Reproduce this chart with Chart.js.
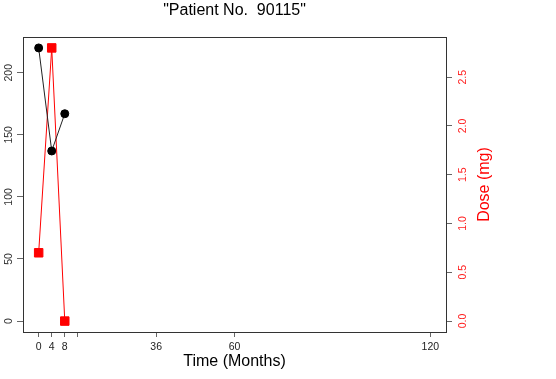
<!DOCTYPE html>
<html>
<head>
<meta charset="utf-8">
<script src="https://cdn.jsdelivr.net/npm/chart.js@4"></script>
<style>
  html, body { margin: 0; padding: 0; background: #fff; }
  #wrap { width: 556px; height: 379px; }
</style>
</head>
<body>
<div id="wrap"><canvas id="chart"></canvas></div>
<script>
// data
const months = [0, 4, 8]
const countValues = [220, 137, 167]
const doseValues = [0.7, 2.8, 0]
const xTicks = [0, 4, 8, 12, 36, 60, 120]
const leftTicks = [0, 50, 100, 150, 200]
const rightTicks = [0, 0.5, 1, 1.5, 2, 2.5]
const chartTitle = '"Patient No.  90115"'
const xTitle = 'Time (Months)'
const rightTitle = 'Dose (mg)'

const FONT = '"Liberation Sans", Arial, sans-serif'

// box, rotated axis labels and titles, R style
const rLook = {
  id: 'rLook',
  afterDraw(chart) {
    const {ctx, chartArea: a} = chart
    const yl = chart.scales.y
    const yr = chart.scales.y2
    ctx.save()
    ctx.strokeStyle = '#333'
    ctx.lineWidth = 1
    ctx.strokeRect(Math.round(a.left) + 0.5, Math.round(a.top) + 0.5,
      Math.round(a.right - a.left), Math.round(a.bottom - a.top))

    ctx.font = '10.5px ' + FONT
    ctx.textAlign = 'center'
    ctx.textBaseline = 'middle'
    ctx.fillStyle = '#333'
    leftTicks.forEach(v => {
      ctx.save()
      ctx.translate(a.left - 14, yl.getPixelForValue(v))
      ctx.rotate(-Math.PI / 2)
      ctx.fillText(String(v), 0, 0)
      ctx.restore()
    })
    ctx.fillStyle = '#ff2020'
    rightTicks.forEach(v => {
      ctx.save()
      ctx.translate(a.right + 17, yr.getPixelForValue(v))
      ctx.rotate(-Math.PI / 2)
      ctx.fillText(v.toFixed(1), 0, 0)
      ctx.restore()
    })

    ctx.font = '16px ' + FONT
    ctx.fillStyle = '#ff0000'
    ctx.save()
    ctx.translate(a.right + 39, (a.top + a.bottom) / 2)
    ctx.rotate(-Math.PI / 2)
    ctx.fillText(rightTitle, 0, 0)
    ctx.restore()

    ctx.fillStyle = '#000'
    const cx = (a.left + a.right) / 2
    ctx.fillText(chartTitle, cx, 11)
    ctx.fillText(xTitle, cx, 362)
    ctx.restore()
  }
}

const chart = new Chart(document.getElementById('chart'), {
  type: 'line',
  data: {
    datasets: [
      {
        label: 'count',
        data: months.map((m, i) => ({x: m, y: countValues[i]})),
        yAxisID: 'y',
        borderColor: '#222',
        borderWidth: 1,
        pointStyle: 'circle',
        pointRadius: 4,
        pointBackgroundColor: '#000',
        pointBorderColor: '#000',
        tension: 0
      },
      {
        label: 'dose',
        data: months.map((m, i) => ({x: m, y: doseValues[i]})),
        yAxisID: 'y2',
        borderColor: '#ff0000',
        borderWidth: 1,
        pointStyle: 'rect',
        pointRadius: 6,
        pointBackgroundColor: '#ff0000',
        pointBorderColor: '#ff0000',
        tension: 0
      }
    ]
  },
  options: {
    animation: false,
    responsive: true,
    maintainAspectRatio: false,
    layout: { padding: { top: 37, left: 0, right: 0, bottom: 0 } },
    plugins: {
      legend: { display: false },
      tooltip: { enabled: false }
    },
    scales: {
      x: {
        type: 'linear',
        min: -4.8,
        max: 124.8,
        afterBuildTicks: s => { s.ticks = xTicks.map(v => ({value: v})) },
        afterFit: s => { s.height = 47 },
        grid: { drawOnChartArea: false, drawTicks: true, tickLength: 5, color: '#666' },
        border: { display: true, color: '#333' },
        ticks: {
          autoSkip: false,
          maxRotation: 0,
          padding: 4,
          color: '#222',
          font: { family: FONT, size: 10.5 },
          callback: v => (v === 12 ? '' : String(v))
        }
      },
      y: {
        type: 'linear',
        position: 'left',
        min: -8.8,
        max: 228.8,
        afterBuildTicks: s => { s.ticks = leftTicks.map(v => ({value: v})) },
        afterFit: s => { s.width = 23 },
        grid: { drawOnChartArea: false, drawTicks: true, tickLength: 6, color: '#666' },
        border: { display: true, color: '#333' },
        ticks: { display: false }
      },
      y2: {
        type: 'linear',
        position: 'right',
        min: -0.112,
        max: 2.912,
        afterBuildTicks: s => { s.ticks = rightTicks.map(v => ({value: v})) },
        afterFit: s => { s.width = 110 },
        grid: { drawOnChartArea: false, drawTicks: true, tickLength: 6, color: '#666' },
        border: { display: true, color: '#333' },
        ticks: { display: false }
      }
    }
  },
  plugins: [rLook]
})
</script>
</body>
</html>
